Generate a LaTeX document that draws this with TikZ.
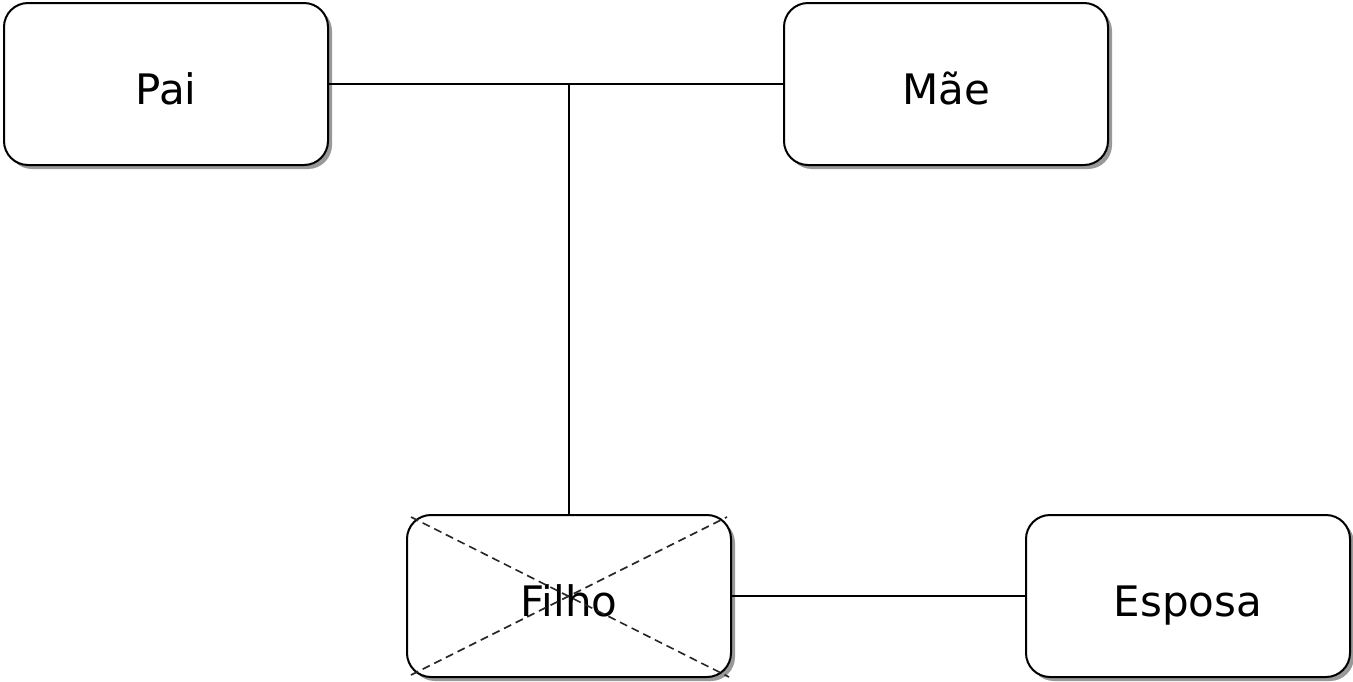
\documentclass[tikz,border=0pt]{standalone}
\usepackage{fontspec}
\setmainfont{DejaVu Sans}
\usetikzlibrary{shadows}
\begin{document}
\begin{tikzpicture}[x=1pt,y=-1pt,
  person/.style={draw=black, line width=2pt, fill=white, rounded corners=24pt,
    minimum width=324pt, minimum height=162pt, inner sep=0pt,
    text height=40pt, text depth=0pt,
    font=\fontsize{42}{48}\selectfont,
    drop shadow={shadow xshift=4pt, shadow yshift=-4pt, opacity=0.4, fill=black}},
  link/.style={draw=black, line width=2pt},
  cross/.style={draw=black!85, line width=1.6pt, dash pattern=on 8pt off 5pt}]
  \useasboundingbox (0,0) rectangle (1353,681);
  \fill[white] (0,0) rectangle (1353,681);

  \node[person] (pai) at (166,84) {Pai};
  \node[person] (mae) at (946,84) {Mãe};
  \node[person] (filho) at (569,596) {Filho};
  \node[person] (esposa) at (1188,596) {Esposa};

  % crossed-out child
  \draw[cross] ([shift={(5pt,-3pt)}]filho.north west) -- ([shift={(-3pt,1pt)}]filho.south east);
  \draw[cross] ([shift={(5pt,3pt)}]filho.south west) -- ([shift={(-5pt,-3pt)}]filho.north east);

  % couple line and descent
  \draw[link] (pai.east) -- (mae.west);
  \coordinate (uniao) at (569,84);
  \draw[link] (uniao) -- (filho.north);
  \draw[link] (filho.east) -- (esposa.west);
\end{tikzpicture}
\end{document}
